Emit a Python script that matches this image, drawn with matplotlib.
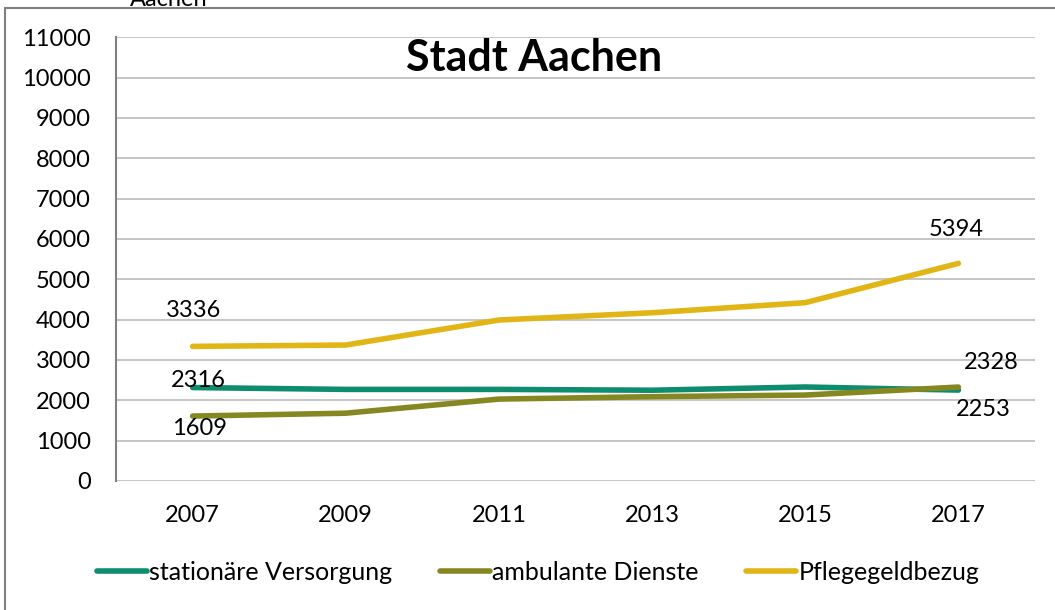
import matplotlib.pyplot as plt
from matplotlib.patches import Rectangle

years = ["2007", "2009", "2011", "2013", "2015", "2017"]
stationaer = [2316, 2270, 2270, 2250, 2330, 2253]
ambulant = [1609, 1680, 2030, 2090, 2130, 2328]
pflegegeld = [3336, 3370, 3990, 4170, 4420, 5394]

plt.rcParams['font.family'] = ['Lato', 'DejaVu Sans']

fig = plt.figure(figsize=(10.55, 6.10), dpi=100)
ax = fig.add_axes([0.110, 0.2115, 0.871, 0.7275])

x = range(len(years))
l1, = ax.plot(x, stationaer, color='#0E8C6E', lw=4, solid_capstyle='round', label='stationäre Versorgung')
l2, = ax.plot(x, ambulant, color='#858820', lw=4, solid_capstyle='round', label='ambulante Dienste')
l3, = ax.plot(x, pflegegeld, color='#E2B517', lw=4, solid_capstyle='round', label='Pflegegeldbezug')

ax.set_xlim(-0.5, 5.5)
ax.set_ylim(0, 11000)
ax.set_yticks(range(0, 11001, 1000))
ax.set_xticks(list(x))
ax.set_xticklabels(years)
ax.tick_params(axis='both', length=0, labelsize=17, colors='black')
ax.tick_params(axis='y', pad=18)
ax.tick_params(axis='x', pad=17)
ax.grid(axis='y', color='#c0c0c0', lw=1.3)
ax.set_axisbelow(True)
for s in ['top', 'right', 'bottom']:
    ax.spines[s].set_visible(False)
ax.spines['left'].set_color('#808080')
ax.spines['left'].set_linewidth(1.5)

# data labels
fs = 17
def lab(i, vals, dx, dy):
    ax.annotate(str(vals[i]), (i, vals[i]), xytext=(dx, dy), textcoords='offset points',
                ha='center', va='center', fontsize=fs)

lab(0, pflegegeld, 1, 26)
lab(0, stationaer, 4, 5)
lab(0, ambulant, 5, -9)
lab(5, pflegegeld, -1.5, 24.5)
lab(5, ambulant, 24, 18)
lab(5, stationaer, 18, -14)

fig.text(0.506, 0.905, 'Stadt Aachen', ha='center', va='center', fontsize=31, fontweight='bold')
fig.text(0.16, 1.0, 'Aachen', ha='center', va='center', fontsize=17)

fig.legend(handles=[l1, l2, l3], loc='center', bbox_to_anchor=(0.510, 0.062), ncol=3,
           frameon=False, fontsize=18, handlelength=2.0, handletextpad=0.1, columnspacing=1.9)

fig.patches.append(Rectangle((5 / 1055, -0.1), 1.2, 1 - 8 / 610 + 0.1, transform=fig.transFigure,
                             fill=False, edgecolor='#808080', lw=1.5))

fig.savefig('out.png', dpi=100)
